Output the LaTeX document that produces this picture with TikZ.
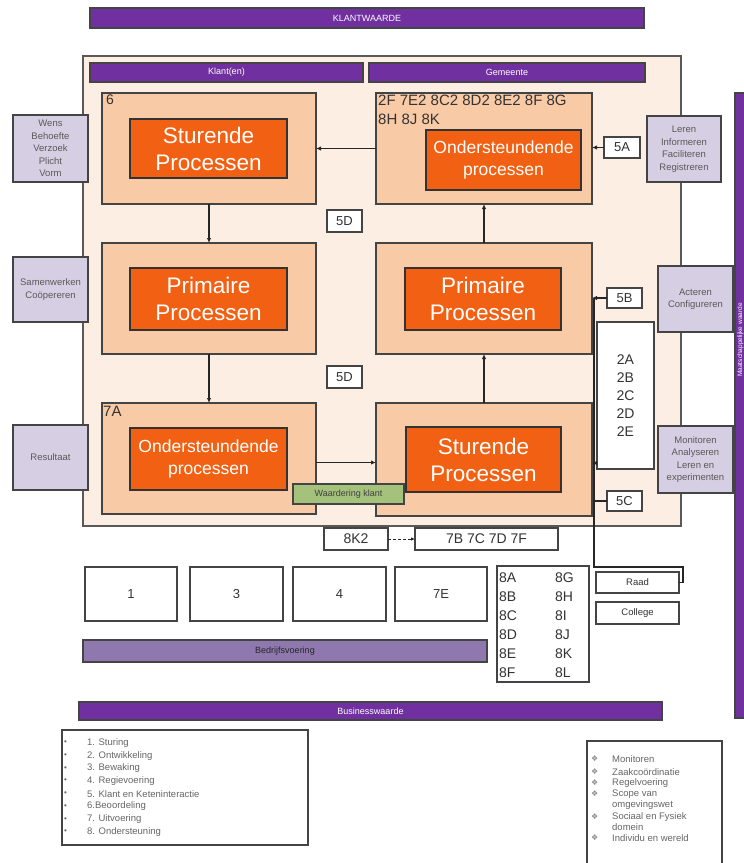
\documentclass[tikz,border=0pt]{standalone}
\usepackage{fontspec}
\setmainfont{Liberation Sans}
\newfontfamily\dejavu{DejaVu Sans}
\usetikzlibrary{arrows.meta}
\definecolor{purp}{HTML}{7030A0}
\definecolor{lpurp}{HTML}{8F78AD}
\definecolor{bgp}{HTML}{FDEEE3}
\definecolor{peach}{HTML}{F9CAA6}
\definecolor{orng}{HTML}{F26113}
\definecolor{lav}{HTML}{D6CEE2}
\definecolor{grn}{HTML}{A4C27B}
\definecolor{edge}{HTML}{444444}
\newcommand\fs[2]{\fontsize{#1}{#2}\selectfont}
\newcommand\R[7]{\node[#1, anchor=north west, minimum width=#5pt, minimum height=#6pt, inner sep=0pt, outer sep=0pt] (#2) at (#3,#4) {#7};}
\begin{document}
\begin{tikzpicture}[x=1pt,y=-1pt,
 pbar/.style={draw=edge, line width=1.2pt, fill=purp, text=white, font=\fs{9}{11}},
 lbar/.style={draw=edge, line width=1.2pt, fill=lpurp, text=black!85, font=\fs{9}{11}},
 bigbg/.style={draw=gray!70!black, line width=1.2pt, fill=bgp},
 blk/.style={draw=edge, line width=1.4pt, fill=peach},
 innerbox/.style={draw=black!80, line width=1.2pt, fill=orng, text=white, align=center},
 bigtxt/.style={font=\fs{22.5}{27}},
 midtxt/.style={font=\fs{17.5}{22}},
 lavbox/.style={draw=edge, line width=1.2pt, fill=lav, text=black!65, align=center, font=\fs{9.5}{12.5}},
 wbox/.style={draw=edge, line width=1.2pt, fill=white, text=black!80, align=center, font=\fs{14}{18}},
 nbox/.style={wbox, font=\fs{13}{15}},
 sbox/.style={draw=edge, line width=1.2pt, fill=white, text=black!80, align=center, font=\fs{9.5}{11}},
 gbox/.style={draw=edge, line width=1.2pt, fill=grn, text=black!75, font=\fs{9}{11}},
 legbox/.style={draw=edge, line width=1.2pt, fill=white},
 lbl/.style={anchor=north west, inner sep=0pt, text=black!80},
 legtxt/.style={anchor=west, inner sep=0pt, text=black!60, font=\fs{9.5}{11}},
 arr/.style={line width=1.2pt, draw=black!85, -{Latex[length=5pt,width=4.5pt]}},
 ln/.style={line width=1.2pt, draw=black!85},
]
\useasboundingbox (0,0) rectangle (744,863);

% top bar
\R{pbar}{klw}{90}{8}{554}{20}{KLANTWAARDE}
% big background
\R{bigbg}{big}{83}{56}{598}{470}{}
\R{pbar}{klant}{90}{63}{273}{19}{Klant(en)}
\R{pbar}{gem}{369}{63}{276}{19}{Gemeente}

% right vertical bar
\R{pbar}{vbar}{735}{93}{12}{625}{}
\node[rotate=90, text=white, font=\fs{6.5}{8}, inner sep=0pt] (vbart) at (740.5,340) {Maatschappelijke waarde};

% process blocks
\R{blk}{tl}{102}{93}{214}{111}{}
\R{innerbox,bigtxt}{tli}{130}{119}{157}{59}{Sturende\\Processen}
\R{blk}{tr}{376}{93}{216}{111}{}
\R{innerbox,midtxt}{tri}{426}{130}{155}{60}{Ondersteundende\\processen}
\R{blk}{ml}{102}{243}{214}{111}{}
\R{innerbox,bigtxt}{mli}{130}{268}{157}{62}{Primaire\\Processen}
\R{blk}{mr}{376}{243}{216}{111}{}
\R{innerbox,bigtxt}{mri}{405}{268}{156}{62}{Primaire\\Processen}
\R{blk}{bl}{102}{403}{214}{111}{}
\R{innerbox,midtxt}{bli}{130}{428}{157}{62}{Ondersteundende\\processen}
\R{blk}{br}{376}{403}{216}{113}{}
\R{innerbox,bigtxt}{bri}{406}{427}{155}{65}{Sturende\\Processen}

\node[lbl, font=\fs{14}{16}] (t6) at (106,95) {6};
\node[lbl, font=\fs{15}{18.5}, align=left] (ttr) at (378,95) {2F 7E2 8C2 8D2 8E2 8F 8G\\8H 8J 8K};
\node[lbl, font=\fs{15}{17}] (t7a) at (103,406) {7A};

\R{gbox}{wk}{293}{484}{111}{20}{Waardering klant}

% small label boxes
\R{nbox}{d5a}{327}{210}{35}{22}{5D}
\R{nbox}{d5b}{327}{366}{35}{22}{5D}
\R{nbox}{a5}{604}{137}{36}{21}{5A}
\R{nbox}{b5}{607}{288}{35}{20}{5B}
\R{nbox}{c5}{607}{491}{35}{20}{5C}
\R{wbox}{tw}{597}{322}{57}{147}{2A\\2B\\2C\\2D\\2E}

% lavender boxes
\R{lavbox}{wens}{13}{115}{75}{67}{Wens\\Behoefte\\Verzoek\\Plicht\\Vorm}
\R{lavbox}{samen}{13}{257}{75}{65}{Samenwerken\\Coöpereren}
\R{lavbox}{res}{13}{425}{75}{65}{Resultaat}
\R{lavbox}{leren}{647}{116}{74}{66}{Leren\\Informeren\\Faciliteren\\Registreren}
\R{lavbox}{act}{658}{266}{75}{66}{Acteren\\Configureren}
\R{lavbox}{mon}{658}{426}{75}{67}{Monitoren\\Analyseren\\Leren en\\experimenten}

% lower boxes
\R{wbox}{k2}{324}{528}{64}{22}{8K2}
\R{wbox}{k7}{415}{528}{143}{22}{7B 7C 7D 7F}
\R{nbox}{b1}{85}{567}{92}{54}{1}
\R{nbox}{b3}{190}{567}{93}{54}{3}
\R{nbox}{b4}{293}{567}{93}{54}{4}
\R{nbox}{b7}{395}{567}{92}{54}{7E}
\R{wbox}{b8}{497}{566}{92}{116}{}
\node[lbl, font=\fs{14}{19}] (b8t) at (499,569) {\begin{tabular}{@{}l@{\hspace{38pt}}l@{}}8A&8G\\8B&8H\\8C&8I\\8D&8J\\8E&8K\\8F&8L\end{tabular}};
\R{sbox}{raad}{596}{572}{83}{21}{Raad}
\R{sbox}{coll}{596}{602}{83}{22}{College}

\R{lbar}{bedr}{83}{640}{404}{22}{Bedrijfsvoering}
\R{pbar}{busi}{79}{702}{583}{18}{Businesswaarde}

% legends
\R{legbox}{lg1}{62}{730}{246}{115}{}
\foreach \t [count=\i] in {1. Sturing, 2. Ontwikkeling, 3. Bewaking, 4. Regievoering, 5. Klant en Keteninteractie, 6.Beoordeling, 7. Uitvoering, 8. Ondersteuning}{
  \node[legtxt] (lt\i) at (87,{743+12.7*(\i-1)}) {\t};
  \node[legtxt, font=\fs{8}{9}] (lb\i) at (64,{743+12.7*(\i-1)}) {•};
}
\R{legbox}{lg2}{587}{741}{135}{130}{}
\foreach \t/\yy [count=\i] in {Monitoren/759, Zaakcoördinatie/772, Regelvoering/783, Scope van/794, Sociaal en Fysiek/817, Individu en wereld/838}{
  \node[legtxt] (rt\i) at (612,\yy) {\t};
  \node[legtxt, text=black!45, font=\dejavu\fs{8}{9}] (rb\i) at (591,\yy) {❖};
}
\node[legtxt] (rt4b) at (612,805) {omgevingswet};
\node[legtxt] (rt5b) at (612,827) {domein};

% arrows between blocks
\draw[arr] (tr.west) -- (tl.east);
\draw[arr] (tl.south) -- (ml.north);
\draw[arr] (ml.south) -- (bl.north);
\draw[arr] ([yshift=-4pt]bl.east) -- ([yshift=-4pt]bl.east -| br.west);
\draw[arr] (br.north) -- (mr.south);
\draw[arr] (mr.north) -- (tr.south);
\draw[arr] (a5.west) -- (a5.west -| tr.east);
\draw[arr] (b5.west) -- (b5.west -| mr.east);
\coordinate (vx) at (594,0);
\coordinate (c1) at (594,567);
\coordinate (c2) at (683,567);
\draw[ln] (vx |- b5.west) -- (c1) -- (c2) |- (raad.east);
\coordinate (hb) at (0,463);
\draw[arr] (vx |- hb) -- (br.east |- hb);
\draw[ln] (c5.west) -- (c5.west -| vx);
\draw[line width=0.8pt, black!85, densely dashed, -{Latex[length=4pt,width=3.5pt]}] (k2.east) -- (k7.west);
\end{tikzpicture}
\end{document}
